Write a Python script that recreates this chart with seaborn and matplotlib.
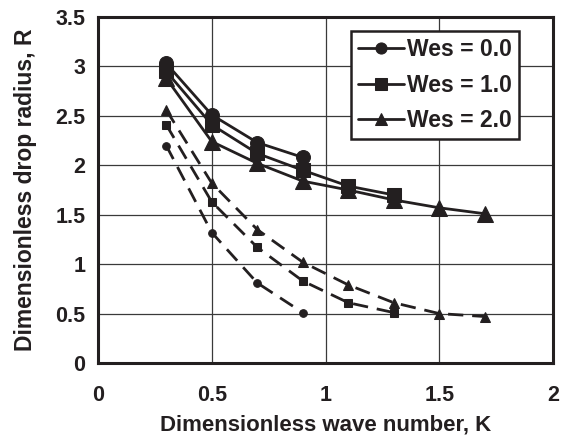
import matplotlib
matplotlib.use("Agg")
import matplotlib.pyplot as plt
import seaborn as sns
import pandas as pd

# Solid curves (legend series)
k_wes0 = [0.3, 0.5, 0.7, 0.9]
r_wes0 = [3.03, 2.51, 2.23, 2.08]
k_wes1 = [0.3, 0.5, 0.7, 0.9, 1.1, 1.3]
r_wes1 = [2.95, 2.41, 2.12, 1.95, 1.79, 1.70]
k_wes2 = [0.3, 0.5, 0.7, 0.9, 1.1, 1.3, 1.5, 1.7]
r_wes2 = [2.88, 2.24, 2.02, 1.84, 1.75, 1.65, 1.57, 1.51]

# Dashed curves
kd_wes0 = [0.3, 0.5, 0.7, 0.9]
rd_wes0 = [2.20, 1.32, 0.81, 0.51]
kd_wes1 = [0.3, 0.5, 0.7, 0.9, 1.1, 1.3]
rd_wes1 = [2.41, 1.63, 1.17, 0.83, 0.61, 0.51]
kd_wes2 = [0.3, 0.5, 0.7, 0.9, 1.1, 1.3, 1.5, 1.7]
rd_wes2 = [2.56, 1.82, 1.35, 1.02, 0.79, 0.61, 0.50, 0.47]

labels = ["Wes = 0.0", "Wes = 1.0", "Wes = 2.0"]
markers = ["o", "s", "^"]
x_ticks = [0, 0.5, 1, 1.5, 2]
y_ticks = [0, 0.5, 1, 1.5, 2, 2.5, 3, 3.5]
y_ticklabels = ["0", "0.5", "1", "1.5", "2", "2.5", "3", "3.5"]
x_ticklabels = ["0", "0.5", "1", "1.5", "2"]

sns.set_style("white")
plt.rcParams["font.family"] = ["Liberation Sans", "DejaVu Sans"]
plt.rcParams["font.weight"] = "bold"

ink = "#231f20"
fig = plt.figure(figsize=(5.61, 4.40), dpi=100)
ax = fig.add_axes([98 / 561, 77 / 440, 455 / 561, 346 / 440])

solid = [(k_wes0, r_wes0), (k_wes1, r_wes1), (k_wes2, r_wes2)]
dashed = [(kd_wes0, rd_wes0), (kd_wes1, rd_wes1), (kd_wes2, rd_wes2)]

for (k, r), lab, m in zip(solid, labels, markers):
    df = pd.DataFrame({"K": k, "R": r})
    sns.lineplot(data=df, x="K", y="R", ax=ax, color=ink, lw=2.0,
                 marker=m, markersize=10 if m != "^" else 11, markeredgecolor=ink,
                 markerfacecolor=ink, label=lab, zorder=4)

for (k, r), m in zip(dashed, markers):
    df = pd.DataFrame({"K": k, "R": r})
    sns.lineplot(data=df, x="K", y="R", ax=ax, color=ink, lw=2.0,
                 marker=m, markersize=5.5 if m != "^" else 6.5, markeredgecolor=ink,
                 markerfacecolor=ink, dashes=False, zorder=3, legend=False)
    ax.lines[-1].set_dashes([5.5, 3.2])

ax.set_xlim(0, 2)
ax.set_ylim(0, 3.5)
ax.set_xticks(x_ticks)
ax.set_xticklabels(x_ticklabels)
ax.set_yticks(y_ticks)
ax.set_yticklabels(y_ticklabels)
ax.grid(True, color="#3a3a3a", lw=0.9)
ax.set_axisbelow(True)
for s in ax.spines.values():
    s.set_color(ink)
    s.set_linewidth(2.2)
ax.tick_params(axis="both", direction="out", length=5, width=1, color=ink,
               labelsize=15.5, labelcolor=ink)
ax.tick_params(axis="x", pad=11)
ax.tick_params(axis="y", pad=4)
for t in ax.get_xticklabels() + ax.get_yticklabels():
    t.set_fontweight("bold")
ax.set_xlabel("Dimensionless wave number, K", fontsize=16, fontweight="bold",
              color=ink, labelpad=6)
ax.set_ylabel("Dimensionless drop radius, R", fontsize=16.5, fontweight="bold",
              color=ink, labelpad=13)

leg = ax.legend(loc="upper right", bbox_to_anchor=(0.925, 0.96), frameon=True,
                fancybox=False, edgecolor=ink, fontsize=16.5, handlelength=2.0,
                handletextpad=0.15, borderpad=0.3, labelspacing=0.56,
                borderaxespad=0)
leg.get_frame().set_linewidth(1.8)
leg.get_frame().set_facecolor("white")
leg.get_frame().set_alpha(1)
for t in leg.get_texts():
    t.set_fontweight("bold")
    t.set_color(ink)
for h in leg.legend_handles:
    h.set_markersize(8)

fig.savefig("out.png", dpi=100)
